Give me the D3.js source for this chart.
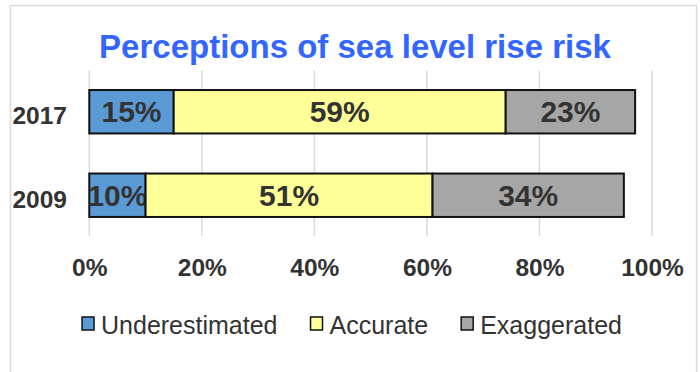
<!DOCTYPE html>
<html>
<head>
<meta charset="utf-8">
<script src="https://cdn.jsdelivr.net/npm/d3@7"></script>
<style>
  html, body { margin: 0; padding: 0; background: #fff; }
  svg { display: block; font-family: Arial, "Liberation Sans", sans-serif; }
</style>
</head>
<body>
<svg id="chart" width="700" height="372"></svg>
<script>
// Survey years, top to bottom
const years = ["2017", "2009"];
// Share of respondents per perception, in percent
const seriesNames = ["Underestimated", "Accurate", "Exaggerated"];
const underestimated = [15, 10];
const accurate = [59, 51];
const exaggerated = [23, 34];
const tickValues = [0, 20, 40, 60, 80, 100];
const colors = ["#5b9bd5", "#ffff99", "#a6a6a6"];
const titleText = "Perceptions of sea level rise risk";

const svg = d3.select("#chart");
const textColor = "#333333";

// Outer frame
svg.append("rect")
  .attr("x", 10.5).attr("y", 5.5)
  .attr("width", 686).attr("height", 380)
  .attr("fill", "#fff")
  .attr("stroke", "#d9d9d9").attr("stroke-width", 1.5);

// Title
svg.append("text")
  .attr("x", 355).attr("y", 58)
  .attr("text-anchor", "middle")
  .attr("font-size", 33).attr("font-weight", "bold")
  .attr("fill", "#3366ff")
  .text(titleText);

const x = d3.scaleLinear().domain([0, 100]).range([89.3, 652]);
const y = d3.scaleBand().domain(years).range([70, 237])
  .paddingInner(0.48).paddingOuter(0.24);

// Vertical gridlines
svg.append("g").selectAll("line").data(tickValues).join("line")
  .attr("x1", d => x(d)).attr("x2", d => x(d))
  .attr("y1", 70.5).attr("y2", 236)
  .attr("stroke", "#d9d9d9").attr("stroke-width", 1.5);

// Axis tick labels along the bottom
const xAxis = d3.axisBottom(x).tickValues(tickValues)
  .tickFormat(d => d + "%").tickSize(0).tickPadding(0);
const axisG = svg.append("g").attr("transform", "translate(0,259)").call(xAxis);
axisG.select(".domain").remove();
axisG.selectAll("text")
  .attr("font-size", 24.5).attr("font-weight", "bold")
  .attr("font-family", "Arial, 'Liberation Sans', sans-serif")
  .attr("fill", textColor).attr("dy", "0.71em");

// Category labels on the left
const yAxis = d3.axisLeft(y).tickSize(0).tickPadding(0);
const yG = svg.append("g").attr("transform", "translate(67,0)").call(yAxis);
yG.select(".domain").remove();
yG.selectAll("text")
  .attr("font-size", 24.5).attr("font-weight", "bold")
  .attr("font-family", "Arial, 'Liberation Sans', sans-serif")
  .attr("fill", textColor).attr("dy", "0.5em");

// Stacked bars
const rows = years.map((yr, i) => ({
  year: yr,
  Underestimated: underestimated[i],
  Accurate: accurate[i],
  Exaggerated: exaggerated[i]
}));
const stacked = d3.stack().keys(seriesNames)(rows);

const layers = svg.append("g").selectAll("g").data(stacked).join("g")
  .attr("fill", (d, i) => colors[i]);

layers.selectAll("rect").data(d => d).join("rect")
  .attr("x", d => x(d[0]))
  .attr("y", d => y(d.data.year))
  .attr("width", d => x(d[1]) - x(d[0]))
  .attr("height", y.bandwidth())
  .attr("stroke", "#111").attr("stroke-width", 2);

// Value labels centred on each segment
layers.selectAll("text").data(d => d).join("text")
  .attr("x", d => (x(d[0]) + x(d[1])) / 2)
  .attr("y", d => y(d.data.year) + y.bandwidth() / 2)
  .attr("dy", "0.35em")
  .attr("text-anchor", "middle")
  .attr("font-size", 30).attr("font-weight", "bold")
  .attr("fill", textColor)
  .text(d => (d[1] - d[0]) + "%");

// Legend
const legend = svg.append("g").attr("transform", "translate(0,317)");
const fontSize = 25;
const items = legend.selectAll("g").data(seriesNames).join("g");
items.append("rect")
  .attr("width", 12).attr("height", 13)
  .attr("fill", (d, i) => colors[i])
  .attr("stroke", "#111").attr("stroke-width", 1.5);
items.append("text")
  .attr("x", 19).attr("y", 17)
  .attr("font-size", fontSize)
  .attr("fill", textColor)
  .text(d => d);

let cursor = 0;
const offsets = [];
items.each(function () {
  offsets.push(cursor);
  cursor += this.getBBox().width + 33;
});
const total = cursor - 33;
const start = 352 - total / 2;
items.attr("transform", (d, i) => `translate(${start + offsets[i]},0)`);
</script>
</body>
</html>
